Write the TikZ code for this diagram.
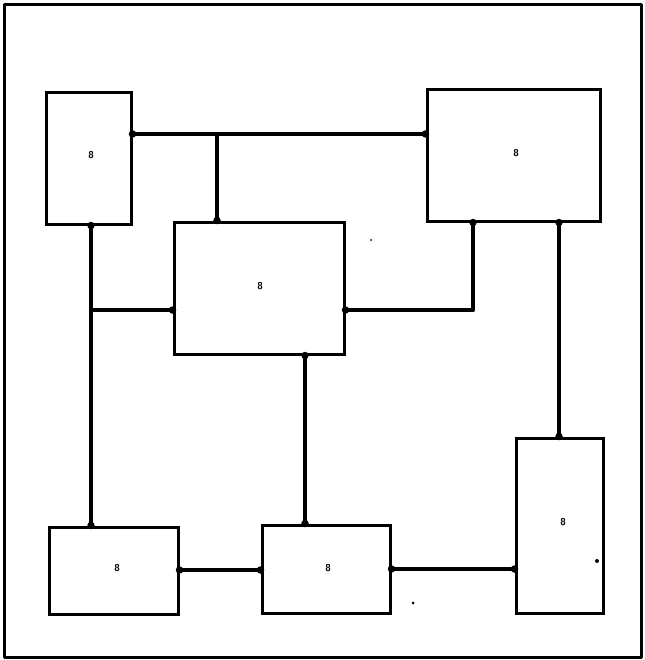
\documentclass[tikz,border=0pt]{standalone}
\usepackage{tikz}
\begin{document}
\begin{tikzpicture}[x=1pt,y=-1pt,
  boxnode/.style={draw=black,line width=3pt,fill=white,inner sep=0pt},
  lab/.style={inner sep=0pt,font=\sffamily\bfseries\fontsize{10}{10}\selectfont},
  wire/.style={line width=4.2pt,line cap=round,line join=round},
  jdot/.style={fill=black,draw=none,circle,inner sep=0pt,minimum size=7.5pt},
  speck/.style={fill=black,draw=none,circle,inner sep=0pt,minimum size=3pt}]
\useasboundingbox (0,0) rectangle (644,660);
\draw[line width=3pt,line join=round] (4,5) rectangle (641,657);
% boxes
\node[boxnode,minimum width=85pt,minimum height=131pt] (A) at (88.5,158.5) {};
\node[boxnode,minimum width=173pt,minimum height=131pt] (B) at (513.5,155.5) {};
\node[boxnode,minimum width=170pt,minimum height=132pt] (C) at (259,288) {};
\node[boxnode,minimum width=129pt,minimum height=87pt] (D) at (113.5,570.5) {};
\node[boxnode,minimum width=128pt,minimum height=88pt] (E) at (326,569) {};
\node[boxnode,minimum width=87pt,minimum height=175pt] (F) at (559.5,525.5) {};
% labels
\node[lab] (Al) at (91,155) {8};
\node[lab] (Bl) at (516,153) {8};
\node[lab] (Cl) at (260,286) {8};
\node[lab] (Dl) at (117,568) {8};
\node[lab] (El) at (328,568) {8};
\node[lab] (Fl) at (563,522) {8};
% junction coordinates
\coordinate (t1) at (217,134);
\coordinate (v1) at (91,310);
\coordinate (r1) at (473,310);
\coordinate (v2) at (559,0);
\coordinate (v3) at (305,0);
\coordinate (h2) at (0,570);
\coordinate (h3) at (0,569);
% connectors
\draw[wire] (A.east |- t1) -- (B.west |- t1);
\draw[wire] (t1) -- (t1 |- C.north);
\draw[wire] (A.south -| v1) -- (D.north -| v1);
\draw[wire] (v1) -- (v1 -| C.west);
\draw[wire] (C.east |- r1) -- (r1) -- (r1 |- B.south);
\draw[wire] (B.south -| v2) -- (F.north -| v2);
\draw[wire] (C.south -| v3) -- (E.north -| v3);
\draw[wire] (D.east |- h2) -- (E.west |- h2);
\draw[wire] (E.east |- h3) -- (F.west |- h3);
% connection dots
\node[jdot] at (A.east |- t1) {};
\node[jdot] at (B.west |- t1) {};
\node[jdot] at (t1 |- C.north) {};
\node[jdot] at (A.south -| v1) {};
\node[jdot] at (D.north -| v1) {};
\node[jdot] at (v1 -| C.west) {};
\node[jdot] at (C.east |- r1) {};
\node[jdot] at (r1 |- B.south) {};
\node[jdot] at (B.south -| v2) {};
\node[jdot] at (F.north -| v2) {};
\node[jdot] at (C.south -| v3) {};
\node[jdot] at (E.north -| v3) {};
\node[jdot] at (D.east |- h2) {};
\node[jdot] at (E.west |- h2) {};
\node[jdot] at (E.east |- h3) {};
\node[jdot] at (F.west |- h3) {};
% specks
\node[speck,minimum size=2pt] at (371,240) {};
\node[speck] at (413,603) {};
\node[speck,minimum size=4pt] at (597,561) {};
\end{tikzpicture}
\end{document}
